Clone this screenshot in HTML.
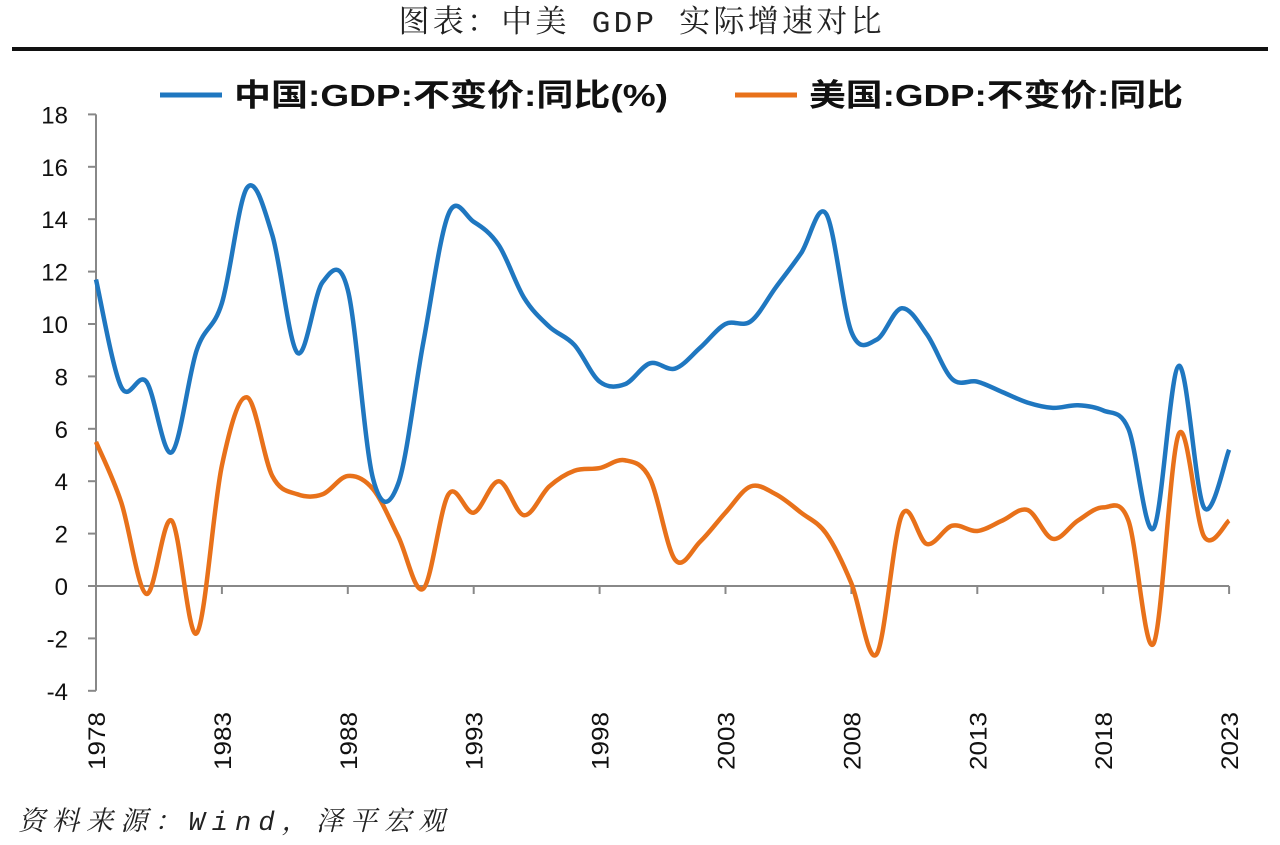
<!DOCTYPE html>
<html><head><meta charset="utf-8"><style>
body{margin:0;background:#fff;width:1280px;height:840px;overflow:hidden}
</style></head><body>
<svg id="s" width="1280" height="840" xmlns="http://www.w3.org/2000/svg" font-family="Liberation Sans, Noto Sans CJK SC, sans-serif">
<text x="640" y="32" text-anchor="middle" font-family="Liberation Mono, Noto Serif CJK SC, serif" font-size="31" fill="#222" textLength="483" lengthAdjust="spacing">图表：中美 GDP 实际增速对比</text>
<rect x="12" y="47" width="1256" height="4" fill="#111"/>
<line x1="160" y1="95" x2="222" y2="95" stroke="#1f77c0" stroke-width="5"/>
<text x="234" y="106" font-size="31" font-weight="bold" fill="#111" textLength="434" lengthAdjust="spacingAndGlyphs">中国:GDP:不变价:同比(%)</text>
<line x1="735" y1="95" x2="797" y2="95" stroke="#e8711a" stroke-width="5"/>
<text x="809" y="106" font-size="31" font-weight="bold" fill="#111" textLength="374" lengthAdjust="spacingAndGlyphs">美国:GDP:不变价:同比</text>
<g id="ax" stroke="#888" stroke-width="2" fill="none"></g>
<g id="lb" font-size="24" fill="#111"></g>
<path id="us" fill="none" stroke="#e8711a" stroke-width="4.5"/>
<path id="cn" fill="none" stroke="#1f77c0" stroke-width="4.5"/>
<text x="18" y="830" font-family="Liberation Mono, Noto Serif CJK SC, serif" font-style="italic" font-size="27" fill="#222" textLength="427" lengthAdjust="spacing">资料来源：Wind，泽平宏观</text>
</svg>
<script>
var x0=96,px=25.18,y0=586,py=26.2;
function X(i){return x0+i*px} function Y(v){return y0-v*py}
var cn=[11.7,7.6,7.8,5.1,9.0,10.8,15.2,13.4,8.9,11.6,11.3,4.1,3.9,9.3,14.2,13.9,13.0,11.0,9.9,9.2,7.8,7.7,8.5,8.3,9.1,10.0,10.1,11.4,12.7,14.2,9.7,9.4,10.6,9.6,7.9,7.8,7.4,7.0,6.8,6.9,6.7,6.0,2.2,8.4,3.0,5.2];
var us=[5.5,3.2,-0.3,2.5,-1.8,4.6,7.2,4.2,3.5,3.5,4.2,3.7,1.9,-0.1,3.5,2.8,4.0,2.7,3.8,4.4,4.5,4.8,4.1,1.0,1.7,2.8,3.8,3.5,2.8,2.0,0.1,-2.6,2.7,1.6,2.3,2.1,2.5,2.9,1.8,2.5,3.0,2.5,-2.2,5.8,1.9,2.5];
function path(d){var p=d.map(function(v,i){return[X(i),Y(v)]});var s="M"+p[0][0]+","+p[0][1];
for(var i=0;i<p.length-1;i++){var a=p[i-1]||p[i],b=p[i],c=p[i+1],e=p[i+2]||c;
s+=" C"+(b[0]+(c[0]-a[0])/6)+","+(b[1]+(c[1]-a[1])/6)+" "+(c[0]-(e[0]-b[0])/6)+","+(c[1]-(e[1]-b[1])/6)+" "+c[0]+","+c[1];}return s;}
document.getElementById("cn").setAttribute("d",path(cn));
document.getElementById("us").setAttribute("d",path(us));
var ax="",lb="";
ax+='<line x1="96" y1="'+Y(18)+'" x2="96" y2="'+Y(-4)+'"/>';
ax+='<line x1="96" y1="'+y0+'" x2="'+X(45)+'" y2="'+y0+'"/>';
for(var v=-4;v<=18;v+=2){ax+='<line x1="88" y1="'+Y(v)+'" x2="96" y2="'+Y(v)+'"/>';lb+='<text x="68" y="'+(Y(v)+9)+'" text-anchor="end">'+v+'</text>';}
for(var i=0;i<=45;i+=5){ax+='<line x1="'+X(i)+'" y1="'+y0+'" x2="'+X(i)+'" y2="'+(y0+8)+'"/>';
lb+='<text transform="translate('+(X(i)+9)+',770) rotate(-90)" textLength="58" lengthAdjust="spacingAndGlyphs">'+(1978+i)+'</text>';}
document.getElementById("ax").innerHTML=ax;document.getElementById("lb").innerHTML=lb;
</script>
</body></html>
